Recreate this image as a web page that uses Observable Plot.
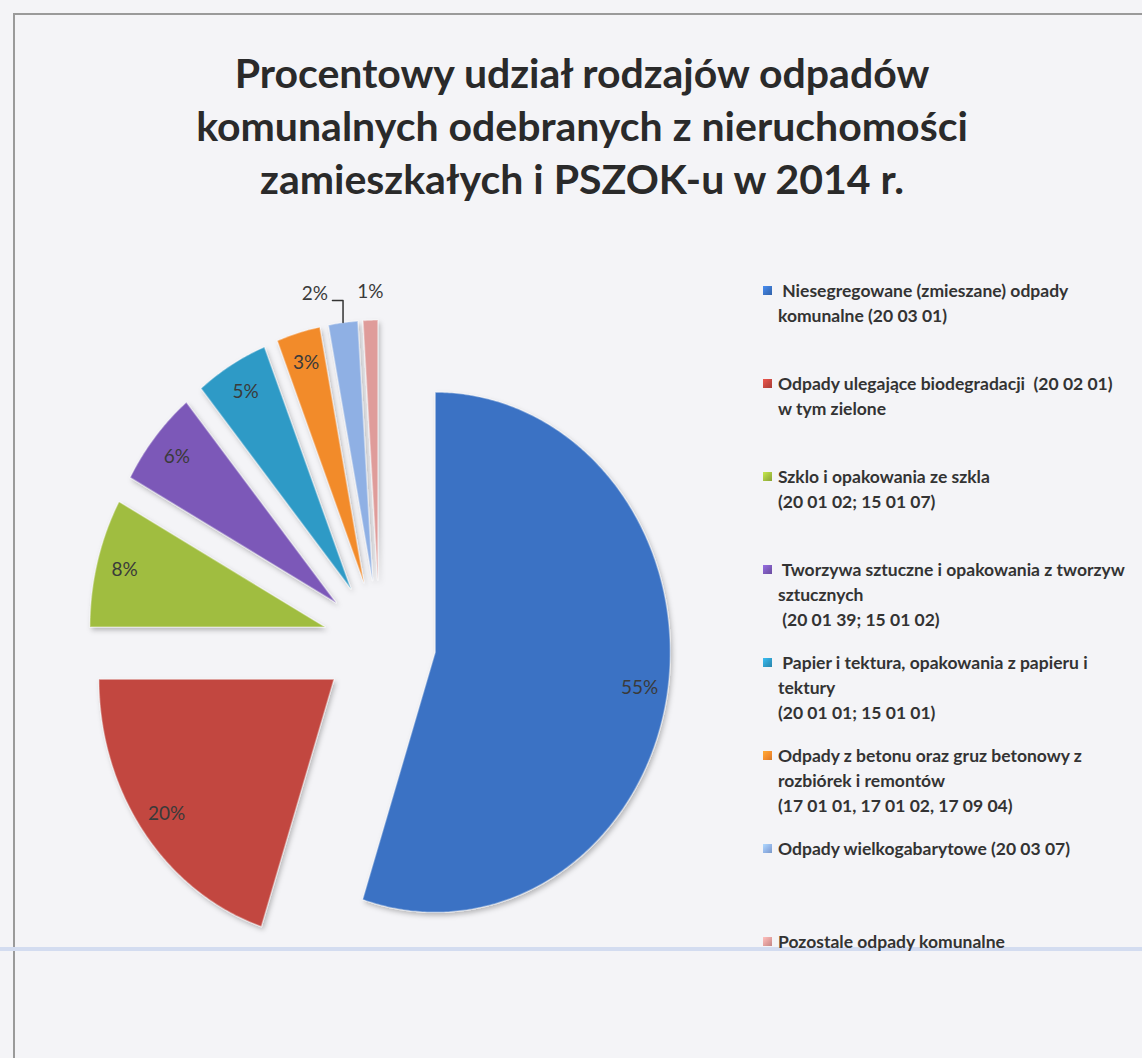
<!DOCTYPE html>
<html><head><meta charset="utf-8">
<script src="https://cdn.jsdelivr.net/npm/d3@7"></script>
<script src="https://cdn.jsdelivr.net/npm/@observablehq/plot@0.6"></script>
<style>
body{margin:0;background:#f4f4f7;}
#page{position:relative;width:1142px;height:1058px;overflow:hidden;font-family:Lato,"Open Sans",sans-serif;background:#f4f4f7;}
#frame{position:absolute;left:13px;top:13px;width:1200px;height:1200px;border-left:2px solid #9a9a9a;border-top:2px solid #9a9a9a;}
#scanline{position:absolute;left:0;top:947px;width:1142px;height:4px;background:#d3dcf0;}
#title{position:absolute;left:0;width:1164px;top:46px;text-align:center;font-weight:700;font-size:41px;line-height:53px;color:#2a2a2a;}
#chart{position:absolute;left:0;top:260px;}
#legend{position:absolute;left:0;top:0;}
.item{position:absolute;left:763px;font-weight:700;font-size:17.5px;line-height:25px;color:#333;white-space:pre;}
.sw{position:absolute;left:0;top:8px;width:9px;height:9px;}
.txt{position:absolute;left:15px;top:0;}
</style></head>
<body><div id="page">
<div id="frame"></div>
<div id="scanline"></div>
<div id="title">Procentowy udział rodzajów odpadów<br>komunalnych odebranych z nieruchomości<br>zamieszkałych i PSZOK-u w 2014 r.</div>
<div id="chart"></div>
<div id="legend"></div>
</div>
<script>
const categories = [
  "Niesegregowane (zmieszane) odpady komunalne (20 03 01)",
  "Odpady ulegające biodegradacji (20 02 01) w tym zielone",
  "Szklo i opakowania ze szkla (20 01 02; 15 01 07)",
  "Tworzywa sztuczne i opakowania z tworzyw sztucznych (20 01 39; 15 01 02)",
  "Papier i tektura, opakowania z papieru i tektury (20 01 01; 15 01 01)",
  "Odpady z betonu oraz gruz betonowy z rozbiórek i remontów (17 01 01, 17 01 02, 17 09 04)",
  "Odpady wielkogabarytowe (20 03 07)",
  "Pozostale odpady komunalne"
];
const legendLines = [
  [" Niesegregowane (zmieszane) odpady", "komunalne (20 03 01)"],
  ["Odpady ulegające biodegradacji  (20 02 01)", "w tym zielone"],
  ["Szklo i opakowania ze szkla", "(20 01 02; 15 01 07)"],
  [" Tworzywa sztuczne i opakowania z tworzyw", "sztucznych", " (20 01 39; 15 01 02)"],
  [" Papier i tektura, opakowania z papieru i", "tektury", "(20 01 01; 15 01 01)"],
  ["Odpady z betonu oraz gruz betonowy z", "rozbiórek i remontów", "(17 01 01, 17 01 02, 17 09 04)"],
  ["Odpady wielkogabarytowe (20 03 07)"],
  ["Pozostale odpady komunalne"]
];
const values = [55, 20, 8, 6, 5, 3, 2, 1];
const percentLabels = ["55%", "20%", "8%", "6%", "5%", "3%", "2%", "1%"];
const colors = ["#3a72c4", "#c2463f", "#a0bd3f", "#7b59b8", "#2f9ac6", "#f28b2c", "#8fb0e4", "#df9c9a"];

// slices
const total = d3.sum(values);
let acc = 0;
const EXPLODE = 0.24;
const slices = values.map((v, i) => {
  const a0 = acc / total * 2 * Math.PI; acc += v;
  const a1 = acc / total * 2 * Math.PI;
  const mid = (a0 + a1) / 2;
  return {cat: categories[i], v, a0, a1, mid, ox: EXPLODE * Math.sin(mid), oy: EXPLODE * Math.cos(mid), label: percentLabels[i]};
});
const pts = [];
for (const s of slices) {
  pts.push({cat: s.cat, x: s.ox, y: s.oy});
  const n = Math.max(4, Math.ceil((s.a1 - s.a0) / 0.01));
  for (let k = 0; k <= n; k++) {
    const a = s.a0 + (s.a1 - s.a0) * k / n;
    pts.push({cat: s.cat, x: s.ox + Math.sin(a), y: s.oy + Math.cos(a)});
  }
}
const inside = slices.filter(s => s.v >= 3).map(s => ({
  text: s.label, x: s.ox + 0.88 * Math.sin(s.mid), y: s.oy + 0.88 * Math.cos(s.mid)
}));
const small = slices.filter(s => s.v < 3);
const outside = [];
const leaders = [];
small.forEach((s, j) => {
  const tx = s.ox + Math.sin(s.mid), ty = s.oy + Math.cos(s.mid);
  if (j === 0) {
    leaders.push({x: tx, y: ty}, {x: tx, y: ty + 0.085}, {x: tx - 0.045, y: ty + 0.085});
    outside.push({text: s.label, x: tx - 0.12, y: ty + 0.11});
  } else {
    outside.push({text: s.label, x: tx, y: ty + 0.11});
  }
});

const chart = Plot.plot({
  width: 760, height: 680, margin: 0,
  x: {domain: [-1.613, 1.621], axis: null},
  y: {domain: [-1.146, 1.469], axis: null},
  color: {domain: categories, range: colors},
  style: {background: "transparent", overflow: "visible"},
  marks: [
    Plot.line(pts, {x: "x", y: "y", z: "cat", fill: "cat", stroke: "#ffffff", strokeOpacity: 0.35, strokeWidth: 1.5, curve: "linear-closed"}),
    Plot.text(inside, {x: "x", y: "y", text: "text", fontSize: 19, fill: "#3a3a3a", fontFamily: "Lato, sans-serif"}),
    Plot.line(leaders, {x: "x", y: "y", stroke: "#333", strokeWidth: 1.5}),
    Plot.text(outside, {x: "x", y: "y", text: "text", fontSize: 19, fill: "#3a3a3a", fontFamily: "Lato, sans-serif"})
  ]
});
// subtle drop shadow on slices
const defs = document.createElementNS("http://www.w3.org/2000/svg", "defs");
defs.innerHTML = '<filter id="shadow" x="-20%" y="-20%" width="140%" height="140%"><feDropShadow dx="2" dy="3" stdDeviation="2.5" flood-color="#000" flood-opacity="0.25"/></filter>';
chart.insertBefore(defs, chart.firstChild);
const sliceGroup = chart.querySelector('g[aria-label="line"]');
if (sliceGroup) sliceGroup.setAttribute("filter", "url(#shadow)");
document.getElementById("chart").appendChild(chart);

// legend
const legend = document.getElementById("legend");
legendLines.forEach((lines, i) => {
  const item = document.createElement("div");
  item.className = "item";
  item.style.top = (278 + i * 93) + "px";
  const sw = document.createElement("div");
  sw.className = "sw";
  sw.style.background = `linear-gradient(135deg, ${d3.color(colors[i]).brighter(0.6)}, ${colors[i]} 60%, ${d3.color(colors[i]).darker(0.4)})`;
  item.appendChild(sw);
  const t = document.createElement("div");
  t.className = "txt";
  t.textContent = lines.join("\n");
  item.appendChild(t);
  legend.appendChild(item);
});
</script>
</body></html>
